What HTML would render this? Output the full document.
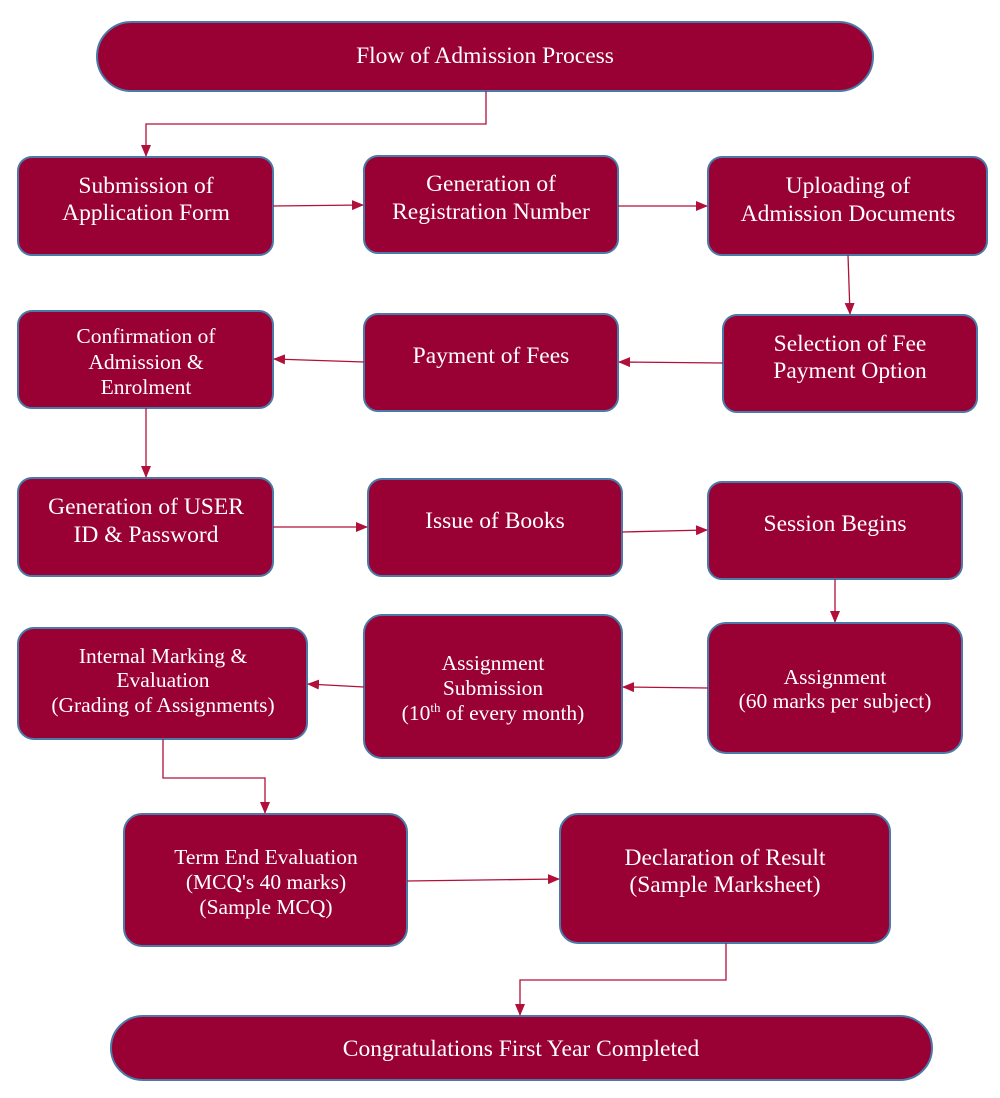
<!DOCTYPE html>
<html><head><meta charset="utf-8"><style>
html,body{margin:0;padding:0;background:#fff;}
svg{display:block;}
text{font-family:"Liberation Serif",serif;fill:#fff;text-anchor:middle;}
.b{fill:#990033;stroke:#4a7aa8;stroke-width:2;}
.l{stroke:#b0103a;stroke-width:1.3;fill:none;marker-end:url(#a);}
.t{font-size:23.5px;}
.s{font-size:21.5px;}
</style></head><body>
<svg width="1000" height="1098" viewBox="0 0 1000 1098">
<defs><marker id="a" markerWidth="12" markerHeight="10" refX="11" refY="5" orient="auto" markerUnits="userSpaceOnUse"><path d="M0,0 L12,5 L0,10 z" fill="#b0103a"/></marker></defs>

<rect class="b" x="97" y="22" width="776" height="69" rx="34.5"/>
<text class="t" x="485" y="63">Flow of Admission Process</text>

<rect class="b" x="18" y="157" width="255" height="98" rx="14"/>
<text class="t" x="146" y="193">Submission of</text><text class="t" x="146" y="220">Application Form</text>
<rect class="b" x="364" y="156" width="254" height="97" rx="14"/>
<text class="t" x="491" y="191">Generation of</text><text class="t" x="491" y="219">Registration Number</text>
<rect class="b" x="708" y="157" width="279" height="98" rx="14"/>
<text class="t" x="848" y="193">Uploading of</text><text class="t" x="848" y="221">Admission Documents</text>

<rect class="b" x="18" y="311" width="255" height="97" rx="14"/>
<text class="s" x="146" y="343">Confirmation of</text><text class="s" x="146" y="369">Admission &amp;</text><text class="s" x="146" y="394">Enrolment</text>
<rect class="b" x="364" y="314" width="254" height="97" rx="14"/>
<text class="t" x="491" y="363">Payment of Fees</text>
<rect class="b" x="723" y="315" width="254" height="97" rx="14"/>
<text class="t" x="850" y="351">Selection of Fee</text><text class="t" x="850" y="378">Payment Option</text>

<rect class="b" x="18" y="478" width="255" height="98" rx="14"/>
<text class="t" x="146" y="514">Generation of USER</text><text class="t" x="146" y="542">ID &amp; Password</text>
<rect class="b" x="368" y="479" width="254" height="97" rx="14"/>
<text class="t" x="495" y="528">Issue of Books</text>
<rect class="b" x="708" y="482" width="254" height="97" rx="14"/>
<text class="t" x="835" y="531">Session Begins</text>

<rect class="b" x="18" y="628" width="289" height="111" rx="16"/>
<text class="s" x="163" y="663">Internal Marking &amp;</text><text class="s" x="163" y="687">Evaluation</text><text class="s" x="163" y="712">(Grading of Assignments)</text>
<rect class="b" x="364" y="615" width="258" height="143" rx="18"/>
<text class="s" x="493" y="670">Assignment</text><text class="s" x="493" y="695">Submission</text>
<text class="s" x="493" y="720">(10<tspan font-size="13" dy="-8">th</tspan><tspan dy="8"> of every month)</tspan></text>
<rect class="b" x="708" y="623" width="254" height="130" rx="18"/>
<text class="s" x="835" y="684">Assignment</text><text class="s" x="835" y="708">(60 marks per subject)</text>

<rect class="b" x="124" y="814" width="283" height="132" rx="18"/>
<text class="s" x="266" y="864">Term End Evaluation</text><text class="s" x="266" y="889">(MCQ's 40 marks)</text><text class="s" x="266" y="914">(Sample MCQ)</text>
<rect class="b" x="560" y="814" width="330" height="129" rx="18"/>
<text class="t" x="725" y="865">Declaration of Result</text><text class="t" x="725" y="892">(Sample Marksheet)</text>

<rect class="b" x="111" y="1016" width="821" height="64" rx="32"/>
<text class="t" x="521" y="1056">Congratulations First Year Completed</text>

<path class="l" d="M486,91 V124 H146 V156"/>
<path class="l" d="M273,206 L363,205"/>
<path class="l" d="M618,206 H707"/>
<path class="l" d="M848,255 L850,314"/>
<path class="l" d="M723,363 L619,362"/>
<path class="l" d="M364,362 L274,359"/>
<path class="l" d="M146,408 V477"/>
<path class="l" d="M273,527 H367"/>
<path class="l" d="M622,532 L707,530"/>
<path class="l" d="M835,579 V622"/>
<path class="l" d="M708,688 L623,687"/>
<path class="l" d="M364,687 L308,684"/>
<path class="l" d="M163,739 V778 H265 V813"/>
<path class="l" d="M407,881 L559,879"/>
<path class="l" d="M726,943 V980 H520 V1015"/>
</svg>
</body></html>
